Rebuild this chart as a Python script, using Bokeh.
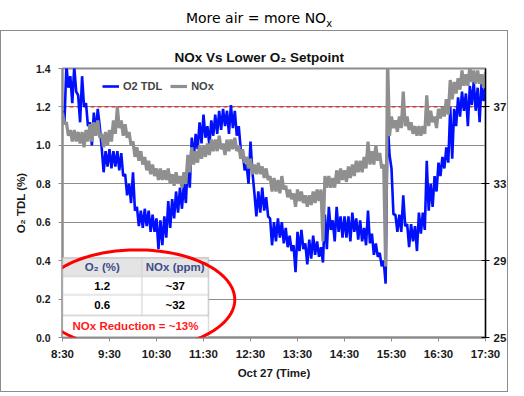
import numpy as np
from bokeh.plotting import figure
from bokeh.models import (Range1d, LinearAxis, FixedTicker, Span, BoxAnnotation,
                          Label, PolyAnnotation, Div)
from bokeh.layouts import column
from bokeh.embed import file_html
from bokeh.resources import INLINE

# ---------------- data ----------------
main_title_html = ('<span style="position:relative;top:3px">More air = more NO'
                   '<sub style="font-size:10px">x</sub></span>')
chart_title = "NOx Vs Lower O\u2082 Setpoint"
x_label = "Oct 27 (Time)"
y_label = "O\u2082 TDL (%)"
time_ticks = [8.5, 9.5, 10.5, 11.5, 12.5, 13.5, 14.5, 15.5, 16.5, 17.5]
time_labels = ["8:30", "9:30", "10:30", "11:30", "12:30", "13:30", "14:30", "15:30", "16:30", "17:30"]
o2_ticks = [0.0, 0.2, 0.4, 0.6, 0.8, 1.0, 1.2, 1.4]
o2_tick_labels = ["0.0", "0.2", "0.4", "0.6", "0.8", "1.0", "1.2", "1.4"]
nox_ticks = [25, 29, 33, 37]
o2_setpoint = 1.2
start_hour = 8.5
sample_step_min = 2.5

# O2 TDL (%) sampled every 2.5 min from 8:30
o2_tdl = [
    1.18, 1.12, 1.42, 1.30, 1.36, 1.22, 1.41, 1.28, 1.26, 1.12, 1.36, 1.20, 1.22, 1.10, 1.12, 1.00, 1.17, 1.06, 1.19, 1.10,
    0.99, 0.86, 0.97, 0.89, 0.98, 0.88, 0.97, 0.89, 0.97, 0.87, 0.96, 0.84, 0.85, 0.74, 0.80, 0.70, 0.86, 0.66, 0.68, 0.58,
    0.66, 0.57, 0.67, 0.58, 0.66, 0.55, 0.64, 0.55, 0.62, 0.46, 0.61, 0.48, 0.63, 0.52, 0.71, 0.57, 0.72, 0.62, 0.76, 0.65,
    0.78, 0.67, 0.80, 0.70, 0.91, 0.78, 1.04, 0.93, 1.06, 0.98, 1.12, 1.01, 1.16, 1.04, 1.10, 1.00, 1.13, 1.05, 1.16, 1.06,
    1.18, 1.08, 1.19, 1.10, 1.18, 1.06, 1.21, 1.09, 1.18, 1.05, 1.10, 0.98, 0.97, 0.87, 0.90, 0.80, 1.02, 0.86, 0.75, 0.63,
    0.76, 0.65, 0.78, 0.66, 0.73, 0.63, 0.62, 0.48, 0.60, 0.50, 0.62, 0.52, 0.60, 0.49, 0.57, 0.47, 0.53, 0.45, 0.48, 0.34,
    0.55, 0.45, 0.56, 0.46, 0.49, 0.38, 0.51, 0.41, 0.53, 0.43, 0.50, 0.42, 0.47, 0.39, 0.64, 0.46, 0.68, 0.56, 0.61, 0.50,
    0.68, 0.55, 0.63, 0.52, 0.63, 0.52, 0.63, 0.50, 0.65, 0.55, 0.62, 0.51, 0.61, 0.50, 0.57, 0.48, 0.66, 0.49, 0.54, 0.43,
    0.49, 0.42, 0.44, 0.37, 0.40, 0.28, 1.14, 0.95, 0.88, 0.64, 0.64, 0.55, 0.64, 0.55, 0.74, 0.58, 0.59, 0.47, 0.59, 0.50,
    0.58, 0.45, 0.65, 0.54, 0.65, 0.56, 0.92, 0.66, 0.80, 0.68, 0.84, 0.76, 0.91, 0.84, 0.94, 0.88, 0.99, 0.91, 1.20, 0.93,
    1.19, 1.10, 1.25, 1.15, 1.28, 1.18, 1.27, 1.10, 1.31, 1.21, 1.33, 1.18, 1.30, 1.12, 1.33, 1.23, 1.30, 1.25,
]

# NOx (ppm) sampled every 2.5 min from 8:30
nox_ppm = [
    36.7, 36.1, 36.2, 35.5, 35.8, 35.2, 35.8, 35.2, 35.7, 35.1, 35.7, 34.9, 35.8, 35.2, 36.1, 35.2, 36.2, 35.5, 36.3, 35.4,
    35.6, 34.9, 35.7, 35.0, 35.8, 35.2, 36.3, 35.6, 37.0, 35.9, 36.3, 35.5, 36.1, 35.4, 35.7, 35.0, 35.2, 34.4, 34.9, 34.2,
    34.7, 34.0, 34.4, 33.7, 34.2, 33.5, 34.0, 33.4, 33.8, 33.2, 33.8, 33.2, 33.7, 33.2, 33.8, 33.0, 33.5, 32.9, 33.6, 33.0,
    33.4, 32.8, 33.6, 33.0, 34.5, 33.6, 34.9, 34.0, 34.7, 34.1, 35.0, 34.3, 35.0, 34.4, 35.1, 34.5, 35.3, 34.7, 35.3, 34.7,
    35.5, 34.8, 35.1, 34.5, 35.3, 34.7, 35.3, 34.8, 35.4, 34.7, 35.0, 34.3, 34.8, 34.1, 34.4, 33.8, 34.3, 33.5, 34.0, 33.5,
    34.1, 33.5, 33.9, 33.3, 33.8, 33.2, 33.4, 32.6, 33.3, 32.6, 33.2, 32.5, 33.4, 32.7, 32.9, 32.3, 32.7, 32.2, 32.5, 31.8,
    32.7, 32.1, 32.6, 32.0, 32.4, 31.8, 32.4, 31.9, 32.6, 32.0, 32.7, 32.1, 32.7, 30.0, 33.4, 32.8, 33.4, 32.8, 33.3, 32.8,
    33.7, 33.0, 33.8, 33.2, 33.7, 33.1, 33.9, 33.3, 34.0, 33.4, 34.2, 33.6, 34.2, 33.6, 34.4, 33.8, 35.2, 34.0, 34.7, 34.0,
    35.0, 34.2, 34.6, 33.8, 34.0, 28.7, 39.5, 35.5, 36.5, 35.9, 36.3, 35.7, 36.5, 35.9, 37.8, 36.0, 36.5, 35.8, 36.2, 35.6,
    36.0, 35.5, 36.0, 35.5, 36.0, 35.6, 37.6, 36.0, 36.8, 36.2, 36.5, 35.9, 36.9, 36.4, 37.0, 36.5, 37.4, 36.6, 38.4, 37.4,
    38.3, 37.7, 38.5, 37.9, 38.9, 38.1, 38.7, 38.1, 39.1, 38.3, 38.9, 38.2, 38.9, 38.2, 38.7, 38.0, 38.8, 38.2,
]

table_header = ["O\u2082 (%)", "NOx (ppm)"]
table_rows = [["1.2", "~37"], ["0.6", "~32"]]
table_note = "NOx Reduction = ~13%"

# ---------------- styling constants ----------------
FONT = "Liberation Sans"
BLUE = "#0010ff"
GRAY = "#8f8f8f"
FRAME_GRAY = "#8c8c8c"

times = start_hour + np.arange(len(o2_tdl)) * sample_step_min / 60.0

p = figure(width=508, height=362, x_range=Range1d(8.5, 17.5), y_range=Range1d(0, 1.4),
           output_backend="svg", toolbar_location=None,
           min_border_left=61, min_border_right=21, min_border_top=37, min_border_bottom=56)
p.extra_y_ranges = {"nox": Range1d(25, 39)}
p.styles = {"border": "1px solid #8c8c8c"}
p.background_fill_color = "white"
p.border_fill_color = "white"
p.outline_line_color = FRAME_GRAY
p.outline_line_width = 2

p.title.text = chart_title
p.title.align = "left"
p.title.offset = 112
p.title.standoff = 8
p.title.text_font = FONT
p.title.text_font_style = "bold"
p.title.text_font_size = "13.5px"
p.title.text_color = "#111111"

# grid
p.xgrid.visible = False
p.ygrid.ticker = FixedTicker(ticks=o2_ticks)
p.ygrid.grid_line_color = FRAME_GRAY
p.ygrid.grid_line_width = 1

# setpoint line
p.add_layout(Span(location=o2_setpoint, dimension="width", line_color="#e8202a",
                  line_dash="4 3", line_width=1.2, level="underlay"))

# series
p.line(times, o2_tdl, line_color=BLUE, line_width=2.6, legend_label="O2 TDL")
p.line(times, nox_ppm, line_color=GRAY, line_width=3.2, y_range_name="nox", legend_label="NOx")

# axes
xa = p.xaxis[0]
xa.ticker = FixedTicker(ticks=time_ticks)
xa.major_label_overrides = {t: l for t, l in zip(time_ticks, time_labels)}
xa.axis_label = x_label
xa.axis_line_color = FRAME_GRAY
xa.axis_line_width = 2
xa.major_tick_line_color = FRAME_GRAY
xa.major_tick_out = 4
xa.major_tick_in = 0
xa.minor_tick_line_color = None
xa.major_label_standoff = 6
xa.axis_label_standoff = 4
xa.major_label_text_font_size = "11.5px"
xa.axis_label_text_font_size = "11.5px"

ya = p.yaxis[0]
ya.ticker = FixedTicker(ticks=o2_ticks)
ya.major_label_overrides = {t: l for t, l in zip(o2_ticks, o2_tick_labels)}
ya.axis_label = y_label
ya.axis_line_color = FRAME_GRAY
ya.axis_line_width = 2
ya.major_tick_line_color = FRAME_GRAY
ya.major_tick_out = 4
ya.major_tick_in = 0
ya.minor_tick_line_color = None
ya.major_label_standoff = 8
ya.axis_label_standoff = 6
ya.major_label_text_font_size = "10.5px"
ya.axis_label_text_font_size = "11.5px"

ra = LinearAxis(y_range_name="nox", ticker=FixedTicker(ticks=nox_ticks))
ra.axis_line_color = "black"
ra.axis_line_width = 1.2
ra.major_tick_line_color = "black"
ra.major_tick_out = 4
ra.major_tick_in = 4
ra.minor_tick_line_color = None
ra.major_label_standoff = 4
ra.major_label_text_font_size = "11.5px"
p.add_layout(ra, "right")

for ax in [xa, ya, ra]:
    ax.major_label_text_font = FONT
    ax.major_label_text_font_style = "bold"
    ax.major_label_text_color = "#1a1a1a"
    ax.axis_label_text_font = FONT
    ax.axis_label_text_font_style = "bold"
    ax.axis_label_text_color = "#1a1a1a"

# legend
lg = p.legend[0]
lg.orientation = "horizontal"
lg.location = (40, 245)
lg.background_fill_alpha = 0
lg.border_line_alpha = 0
lg.padding = 0
lg.margin = 0
lg.spacing = 8
lg.glyph_width = 17
lg.glyph_height = 12
lg.label_height = 12
lg.label_standoff = 4
lg.label_text_font = FONT
lg.label_text_font_style = "bold"
lg.label_text_font_size = "11px"

# ---------------- table annotation ----------------
tl, tm, tr = 8.5, 10.19, 11.606
ty = [0.415, 0.317, 0.223, 0.114, 0.004]
cell_line = "#d2d2d2"
p.add_layout(BoxAnnotation(left=tl, right=tr, bottom=ty[4], top=ty[0], fill_color="white",
                           fill_alpha=1, line_alpha=0))
p.add_layout(BoxAnnotation(left=tl, right=tr, bottom=ty[1], top=ty[0], fill_color="#e4e4e4",
                           fill_alpha=1, line_alpha=0))
for k in range(3):
    for (l, r) in [(tl, tm), (tm, tr)]:
        p.add_layout(BoxAnnotation(left=l, right=r, bottom=ty[k + 1], top=ty[k], fill_alpha=0,
                                   line_color=cell_line, line_width=2))
p.add_layout(BoxAnnotation(left=tl, right=tr, bottom=ty[3], top=ty[3], fill_alpha=0,
                           line_color="#9a9a9a", line_width=1.5))
p.add_layout(BoxAnnotation(left=tl, right=tr, bottom=ty[4], top=ty[0], fill_alpha=0,
                           line_color=FRAME_GRAY, line_width=1.5))

cx_left, cx_right = (tl + tm) / 2, (tm + tr) / 2
for j, txt in enumerate(table_header):
    p.add_layout(Label(x=[cx_left, cx_right][j], y=(ty[0] + ty[1]) / 2, text=txt,
                       text_align="center", text_baseline="middle", text_font=FONT,
                       text_font_style="bold", text_font_size="11.5px", text_color="#3e4d8c"))
for k, row in enumerate(table_rows):
    for j, txt in enumerate(row):
        p.add_layout(Label(x=[cx_left, cx_right][j], y=(ty[k + 1] + ty[k + 2]) / 2, text=txt,
                           text_align="center", text_baseline="middle", text_font=FONT,
                           text_font_style="bold", text_font_size="11.5px", text_color="black"))
p.add_layout(Label(x=(tl + tr) / 2, y=(ty[3] + ty[4]) / 2, text=table_note,
                   text_align="center", text_baseline="middle", text_font=FONT,
                   text_font_style="bold", text_font_size="11.5px", text_color="#ff1a1a"))

# red ellipse around the table
th = np.linspace(0, 2 * np.pi, 180)
e_cx, e_cy, e_a, e_b = 10.085, 0.197, 2.08, 0.259
p.add_layout(PolyAnnotation(xs=list(e_cx + e_a * np.cos(th)), ys=list(e_cy + e_b * np.sin(th)),
                            fill_alpha=0, line_color="#ff0000", line_alpha=1, line_width=3))

header = Div(text=main_title_html, width=508, height=20,
             styles={"text-align": "center", "font-family": "DejaVu Sans", "font-size": "14px",
                     "line-height": "20px", "color": "black"})

layout = column(header, p, spacing=0)
open("out.html", "w").write(file_html(layout, INLINE))
